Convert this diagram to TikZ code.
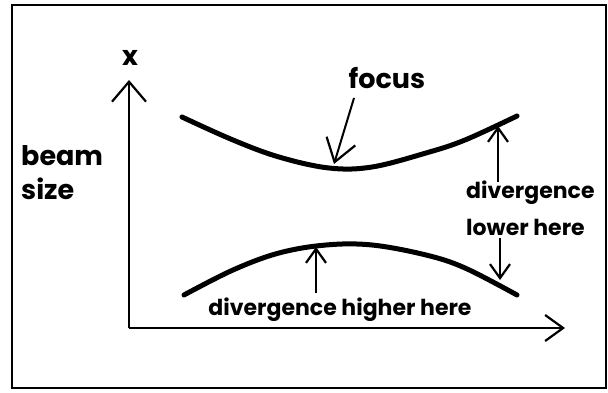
\documentclass[tikz,border=0pt]{standalone}
\usepackage{fontspec}
\setmainfont{Poppins}[BoldFont={* Bold}]
\usetikzlibrary{arrows.meta}
\begin{document}
\begin{tikzpicture}[x=1pt,y=-1pt,
  lbl/.style={font=\fontsize{22}{26}\selectfont\bfseries, inner sep=0pt, anchor=base west},
  biglbl/.style={font=\fontsize{27}{30}\selectfont\bfseries, inner sep=0pt, anchor=base west},
  beam/.style={line width=5pt, line cap=round, line join=round},
  axis/.style={line width=2pt, -{Straight Barb[length=20pt,width=34pt,line width=2.2pt]}},
  pointer/.style={line width=2pt, -{Straight Barb[length=14pt,width=20pt,line width=2.2pt]}}]
\useasboundingbox (0,0) rectangle (608,393);
\draw[line width=2pt] (12,5) rectangle (606,388);
% axes
\coordinate (o) at (129,328);
\coordinate (ytop) at (129,80);
\coordinate (xend) at (565,328);
\draw[axis] (o) -- (ytop);
\draw[line width=2pt, -{Straight Barb[length=18pt,width=26pt,line width=2.2pt]}] (o) -- (xend);
\node[biglbl, anchor=base] (xl) at (130,66) {x};
\node[biglbl] (beamlbl) at (21,165) {beam};
\node[biglbl] (sizelbl) at (21,200) {size};
% beam
\draw[beam] plot[smooth, tension=0.6] coordinates {(182,117) (233,140) (279,157) (329,168) (372,167) (426,153) (465,140) (517,116)};
\draw[beam] plot[smooth, tension=0.6] coordinates {(184,295) (233,270) (279,253) (326,245) (372,245) (426,255) (465,268) (517,295)};
% labels
\node[biglbl, anchor=base] (focus) at (387,89) {focus};
\coordinate (fpt) at (334,164);
\draw[pointer, -{Straight Barb[length=22pt,width=30pt,line width=2.2pt]}] (354,98) -- (fpt);
\node[lbl] (dl1) at (466,198) {divergence};
\node[lbl] (dl2) at (466,235) {lower here};
\coordinate (uptop) at (498,126);
\coordinate (upbot) at (498,182);
\coordinate (dntop) at (500,238);
\coordinate (dnbot) at (500,280);
\draw[pointer] (upbot) -- (uptop);
\draw[pointer] (dntop) -- (dnbot);
\node[lbl, anchor=base] (dh) at (340,315) {divergence higher here};
\coordinate (hpt) at (316,247);
\coordinate (hbot) at (316,293);
\draw[pointer] (hbot) -- (hpt);
\end{tikzpicture}
\end{document}
